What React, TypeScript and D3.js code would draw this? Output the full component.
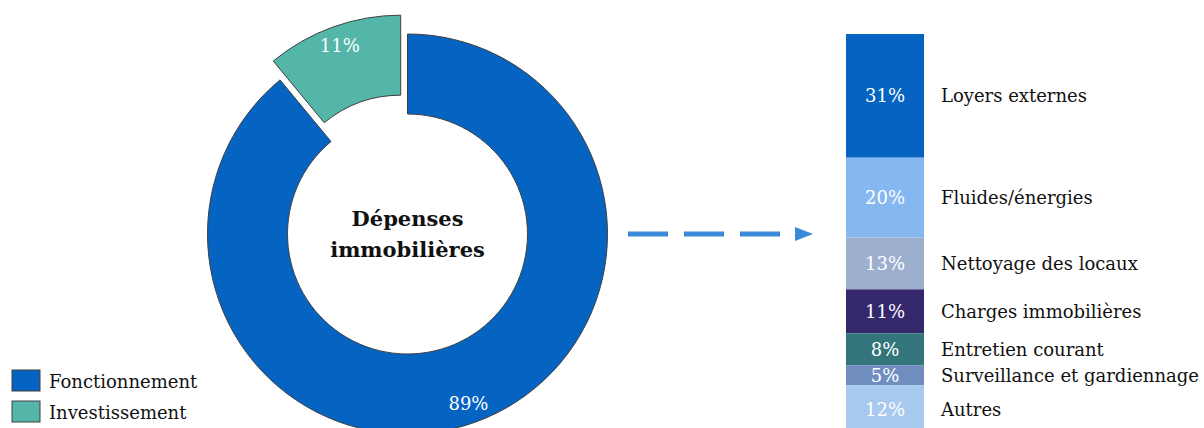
import React from "react";
import * as d3 from "d3";

const donutLabels = ["Fonctionnement", "Investissement"];
const donutValues = [89, 11];
const donutColors = ["#0563C1", "#53B6A8"];

const barCategories = [
  "Loyers externes",
  "Fluides/énergies",
  "Nettoyage des locaux",
  "Charges immobilières",
  "Entretien courant",
  "Surveillance et gardiennage",
  "Autres",
];
const barValues = [31, 20, 13, 11, 8, 5, 12];
const barColors = ["#0563C1", "#85B7F1", "#9DAFCF", "#35276C", "#33757A", "#6F8DBF", "#A8C9EE"];

const centerTitle = ["Dépenses", "immobilières"];

const W = 1204;
const H = 428;
const FONT = "'DejaVu Serif', 'Liberation Serif', serif";

export default function App() {
  const cx = 407.5;
  const cy = 234;
  const rOuter = 200;
  const rInner = 120;
  const explode = 20;

  const pie = d3.pie<number>().sort(null).value((d) => d)(donutValues);
  const arc = d3.arc<d3.PieArcDatum<number>>().innerRadius(rInner).outerRadius(rOuter);

  const barX = 846;
  const barW = 78;
  const barTop = 34;
  const barH = 399;
  const y = d3.scaleLinear().domain([0, d3.sum(barValues)]).range([barTop, barTop + barH]);
  const cum: number[] = [];
  barValues.reduce((acc, v) => {
    cum.push(acc);
    return acc + v;
  }, 0);

  return (
    <div style={{ position: "absolute", left: 0, top: 0 }}>
      <svg width={W} height={H} style={{ display: "block" }}>
        <g transform={`translate(${cx},${cy})`}>
          {pie.map((p, i) => {
            const mid = (p.startAngle + p.endAngle) / 2;
            const off = i === 1 ? explode : 0;
            const dx = Math.sin(mid) * off;
            const dy = -Math.cos(mid) * off;
            const lr = 180;
            return (
              <g key={i} transform={`translate(${dx},${dy})`}>
                <path d={arc(p) || ""} fill={donutColors[i]} stroke="#404040" strokeWidth={1} />
                <text
                  x={Math.sin(mid) * lr}
                  y={-Math.cos(mid) * lr}
                  textAnchor="middle"
                  dominantBaseline="central"
                  fill="#ffffff"
                  fontFamily={FONT}
                  fontSize={18}
                >
                  {p.data}%
                </text>
              </g>
            );
          })}
          {centerTitle.map((t, i) => (
            <text
              key={t}
              x={0}
              y={-16 + i * 31}
              textAnchor="middle"
              dominantBaseline="central"
              fontFamily={FONT}
              fontWeight="bold"
              fontSize={21}
              fill="#111"
            >
              {t}
            </text>
          ))}
        </g>

        {/* arrow */}
        <line
          x1={628}
          x2={781}
          y1={234}
          y2={234}
          stroke="#3A8AD9"
          strokeWidth={5}
          strokeDasharray="40 16"
        />
        <path d="M795,227 L813,234 L795,241 Z" fill="#3A8AD9" />

        {/* stacked bar */}
        {barValues.map((v, i) => {
          const y0 = y(cum[i]);
          const y1 = y(cum[i] + v);
          const ym = (y0 + y1) / 2;
          return (
            <g key={barCategories[i]}>
              <rect x={barX} y={y0} width={barW} height={y1 - y0} fill={barColors[i]} />
              <text
                x={barX + barW / 2}
                y={ym}
                textAnchor="middle"
                dominantBaseline="central"
                fill="#ffffff"
                fontFamily={FONT}
                fontSize={18}
              >
                {v}%
              </text>
              <text
                x={941}
                y={ym}
                dominantBaseline="central"
                fill="#111"
                fontFamily={FONT}
                fontSize={18}
              >
                {barCategories[i]}
              </text>
            </g>
          );
        })}

        {/* legend */}
        {donutLabels.map((l, i) => (
          <g key={l} transform={`translate(12,${370 + i * 31})`}>
            <rect x={0} y={0} width={28} height={21} fill={donutColors[i]} stroke="#404040" strokeWidth={1} />
            <text x={37} y={11} dominantBaseline="central" fontFamily={FONT} fontSize={18} fill="#111">
              {l}
            </text>
          </g>
        ))}
      </svg>
    </div>
  );
}
